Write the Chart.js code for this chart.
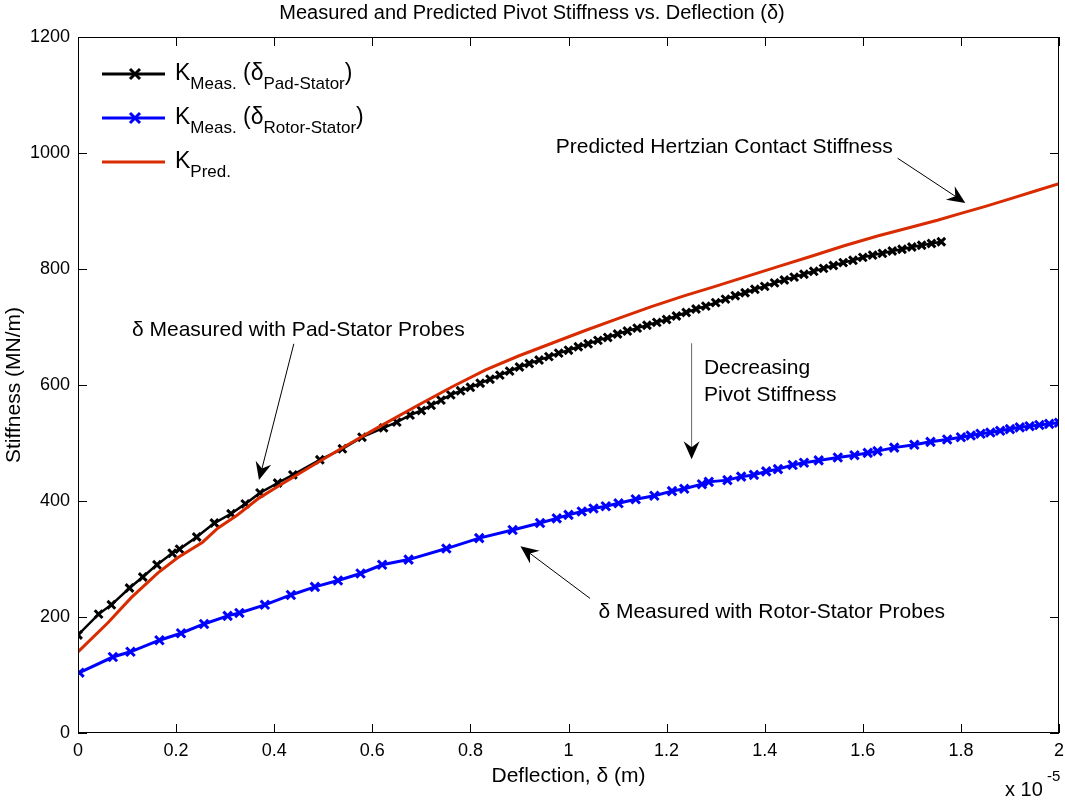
<!DOCTYPE html>
<html lang="en">
<head>
<meta charset="UTF-8">
<title>Measured and Predicted Pivot Stiffness vs. Deflection</title>
<script src="https://cdn.jsdelivr.net/npm/chart.js"></script>
<style>
    html, body { margin: 0; padding: 0; background: #fff; overflow: hidden; }
    #wrap { width: 1065px; height: 800px; overflow: hidden; }
</style>
</head>
<body>
<div id="wrap"><canvas id="stiffChart" width="1068" height="800"></canvas></div>
<script>
// deflection in units of 1e-5 m, stiffness in MN/m
const padStatorDefl = [0, 0.042, 0.068, 0.105, 0.132, 0.161, 0.192, 0.207, 0.242, 0.278, 0.312, 0.341,
    0.371, 0.407, 0.438, 0.493, 0.539, 0.579, 0.623, 0.650, 0.677,
    0.70, 0.72, 0.74, 0.76, 0.78, 0.80, 0.82, 0.84, 0.86, 0.88, 0.90, 0.92, 0.94, 0.96, 0.98,
    1.00, 1.02, 1.04, 1.06, 1.08, 1.10, 1.12, 1.14, 1.16, 1.18, 1.20, 1.22, 1.24, 1.26, 1.28,
    1.30, 1.32, 1.34, 1.36, 1.38, 1.40, 1.42, 1.44, 1.46, 1.48, 1.50, 1.52, 1.54, 1.56, 1.58,
    1.60, 1.62, 1.64, 1.66, 1.68, 1.70, 1.72, 1.74, 1.76];
const padStatorK = [169, 205, 221, 250, 269, 290, 310, 317, 338, 362, 378, 395,
    414, 431, 445, 471, 490, 510, 526, 536, 548,
    556, 565, 574, 583, 590, 596, 603, 610, 617, 624, 631, 637, 643, 649, 655,
    660, 666, 671, 677, 682, 688, 693, 698, 703, 708, 713, 719, 725, 731, 736,
    742, 748, 754, 759, 765, 770, 776, 781, 786, 791, 796, 801, 806, 811, 815,
    820, 824, 827, 831, 834, 838, 841, 844, 847];

const rotorStatorDefl = [0.003, 0.071, 0.107, 0.166, 0.21, 0.257, 0.305, 0.329, 0.381, 0.434, 0.483,
    0.53, 0.576, 0.62, 0.674, 0.751, 0.818, 0.886, 0.942, 0.976, 1.0, 1.027, 1.051, 1.076,
    1.102, 1.137, 1.175, 1.211, 1.236, 1.272, 1.286, 1.324, 1.352, 1.378, 1.403, 1.427,
    1.457, 1.48, 1.51, 1.549, 1.583, 1.61, 1.63, 1.664, 1.705, 1.738, 1.772, 1.80, 1.82,
    1.84, 1.86, 1.88, 1.90, 1.92, 1.94, 1.96, 1.98, 2.0];
const rotorStatorK = [104, 131, 140, 160, 172, 188, 202, 207, 221, 238, 252,
    263, 275, 290, 299, 318, 336, 350, 362, 370, 376, 382, 387, 391,
    396, 403, 409, 417, 421, 429, 433, 436, 442, 445, 451, 455,
    462, 466, 470, 475, 479, 483, 486, 492, 497, 502, 506, 510, 513,
    516, 518, 521, 524, 527, 529, 531, 533, 535];

const predDefl = [0, 0.061, 0.108, 0.163, 0.203, 0.254, 0.285, 0.325, 0.369, 0.413, 0.474, 0.542,
    0.610, 0.695, 0.763, 0.831, 0.898, 0.966, 1.034, 1.102, 1.169, 1.237, 1.291, 1.359,
    1.427, 1.495, 1.562, 1.63, 1.698, 1.752, 1.8, 1.85, 1.9, 1.95, 2.0];
const predK = [140, 190, 233, 276, 302, 329, 353, 376, 405, 428, 459, 493,
    526, 566, 597, 626, 650, 672, 694, 715, 735, 754, 768, 786,
    804, 822, 840, 857, 872, 884, 896, 908, 921, 934, 947];

const xTicks = [0, 0.2, 0.4, 0.6, 0.8, 1, 1.2, 1.4, 1.6, 1.8, 2];
const yTicks = [0, 200, 400, 600, 800, 1000, 1200];

const FONT = "'Liberation Sans', Arial, Helvetica, sans-serif";

function toPoints(xs, ys) {
    return xs.map((x, i) => ({ x: x, y: ys[i] }));
}

// text labels and arrows, given in data coordinates
const notes = [
    { text: 'Predicted Hertzian Contact Stiffness', x: 0.974, y: 1010 },
    { text: '\u03b4 Measured with Pad-Stator Probes', x: 0.110, y: 695 },
    { text: 'Decreasing', x: 1.276, y: 629 },
    { text: 'Pivot Stiffness', x: 1.276, y: 583 },
    { text: '\u03b4 Measured with Rotor-Stator Probes', x: 1.061, y: 209 }
];
const arrows = [
    { from: [1.671, 991], to: [1.809, 914], color: '#000' },
    { from: [0.440, 671], to: [0.369, 436], color: '#000' },
    { from: [1.251, 672], to: [1.251, 472], color: '#666' },
    { from: [1.044, 232], to: [0.902, 322], color: '#000' }
];

function drawArrow(ctx, x1, y1, x2, y2, color) {
    const ang = Math.atan2(y2 - y1, x2 - x1);
    ctx.strokeStyle = color;
    ctx.lineWidth = 1;
    ctx.beginPath();
    ctx.moveTo(x1, y1);
    ctx.lineTo(x2 - Math.cos(ang) * 10, y2 - Math.sin(ang) * 10);
    ctx.stroke();
    ctx.save();
    ctx.translate(x2, y2);
    ctx.rotate(ang);
    ctx.fillStyle = '#000';
    ctx.beginPath();
    ctx.moveTo(0, 0);
    ctx.lineTo(-18, -8);
    ctx.lineTo(-12, 0);
    ctx.lineTo(-18, 8);
    ctx.closePath();
    ctx.fill();
    ctx.restore();
}

// text with a subscript: parts = [[text, isSub], ...]
function drawSubText(ctx, x, y, parts) {
    ctx.textAlign = 'left';
    ctx.textBaseline = 'alphabetic';
    for (const [t, sub] of parts) {
        ctx.font = (sub ? '17px ' : '23px ') + FONT;
        ctx.fillText(t, x, sub ? y + 9 : y);
        x += ctx.measureText(t).width;
    }
}

const matlabLook = {
    id: 'matlabLook',
    afterDraw(chart) {
        const ctx = chart.ctx;
        const a = chart.chartArea;
        const xs = chart.scales.x, ys = chart.scales.y;
        ctx.save();

        // axes box and inward ticks
        ctx.strokeStyle = '#000';
        ctx.lineWidth = 1;
        ctx.strokeRect(a.left + 0.5, a.top + 0.5, a.right - a.left - 1, a.bottom - a.top - 1);
        ctx.beginPath();
        xTicks.forEach(v => {
            const px = Math.round(xs.getPixelForValue(v)) + 0.5;
            ctx.moveTo(px, a.bottom); ctx.lineTo(px, a.bottom - 9);
            ctx.moveTo(px, a.top); ctx.lineTo(px, a.top + 9);
        });
        yTicks.forEach(v => {
            const py = Math.round(ys.getPixelForValue(v)) + 0.5;
            ctx.moveTo(a.left, py); ctx.lineTo(a.left + 9, py);
            ctx.moveTo(a.right, py); ctx.lineTo(a.right - 9, py);
        });
        ctx.stroke();

        // title and axis titles
        ctx.fillStyle = '#000';
        ctx.font = '20px ' + FONT;
        ctx.textAlign = 'center';
        ctx.textBaseline = 'middle';
        ctx.fillText('Measured and Predicted Pivot Stiffness vs. Deflection (\u03b4)', 532, 13);
        ctx.font = '21px ' + FONT;
        ctx.fillText('Deflection, \u03b4 (m)', (a.left + a.right) / 2, 776);
        ctx.save();
        ctx.translate(14, (a.top + a.bottom) / 2);
        ctx.rotate(-Math.PI / 2);
        ctx.fillText('Stiffness (MN/m)', 0, 0);
        ctx.restore();

        // exponent label
        ctx.textAlign = 'left';
        ctx.font = '20px ' + FONT;
        ctx.fillText('x 10', 1005, 790);
        ctx.font = '15px ' + FONT;
        ctx.fillText('-5', 1047, 777);

        // legend (no box)
        const rows = [
            { y: 74, color: '#000', marker: true, parts: [['K', false], ['Meas.', true], [' (\u03b4', false], ['Pad-Stator', true], [')', false]] },
            { y: 118, color: '#0000ff', marker: true, parts: [['K', false], ['Meas.', true], [' (\u03b4', false], ['Rotor-Stator', true], [')', false]] },
            { y: 162, color: '#d92b00', marker: false, parts: [['K', false], ['Pred.', true]] }
        ];
        rows.forEach(r => {
            ctx.strokeStyle = r.color;
            ctx.lineWidth = 3;
            ctx.beginPath();
            ctx.moveTo(102, r.y); ctx.lineTo(165, r.y);
            ctx.stroke();
            if (r.marker) {
                ctx.lineWidth = 3;
                ctx.beginPath();
                ctx.moveTo(130, r.y - 5); ctx.lineTo(140, r.y + 5);
                ctx.moveTo(130, r.y + 5); ctx.lineTo(140, r.y - 5);
                ctx.stroke();
            }
            ctx.fillStyle = '#000';
            drawSubText(ctx, 175, r.y + 6, r.parts);
        });

        // annotations
        ctx.fillStyle = '#000';
        ctx.font = '21px ' + FONT;
        ctx.textAlign = 'left';
        ctx.textBaseline = 'middle';
        notes.forEach(n => ctx.fillText(n.text, xs.getPixelForValue(n.x), ys.getPixelForValue(n.y)));
        arrows.forEach(ar => drawArrow(ctx,
            xs.getPixelForValue(ar.from[0]), ys.getPixelForValue(ar.from[1]),
            xs.getPixelForValue(ar.to[0]), ys.getPixelForValue(ar.to[1]), ar.color));

        ctx.restore();
    }
};

const ctx = document.getElementById('stiffChart').getContext('2d');
new Chart(ctx, {
    type: 'scatter',
    data: {
        datasets: [
            {
                label: 'K Meas. (Pad-Stator)',
                data: toPoints(padStatorDefl, padStatorK),
                showLine: true,
                borderColor: '#000',
                borderWidth: 2.5,
                pointStyle: 'crossRot',
                pointRadius: 5.5,
                pointBorderWidth: 3,
                pointBorderColor: '#000',
                order: 1
            },
            {
                label: 'K Meas. (Rotor-Stator)',
                data: toPoints(rotorStatorDefl, rotorStatorK),
                showLine: true,
                borderColor: '#0000ff',
                borderWidth: 3,
                pointStyle: 'crossRot',
                pointRadius: 6,
                pointBorderWidth: 3,
                pointBorderColor: '#0000ff',
                order: 2
            },
            {
                label: 'K Pred.',
                data: toPoints(predDefl, predK),
                showLine: true,
                borderColor: '#d92b00',
                borderWidth: 3,
                pointRadius: 0,
                order: 0
            }
        ]
    },
    options: {
        responsive: false,
        animation: false,
        devicePixelRatio: 1,
        layout: { padding: { top: 37, right: 0, bottom: 0, left: 0 } },
        plugins: {
            legend: { display: false },
            title: { display: false },
            tooltip: { enabled: false }
        },
        scales: {
            x: {
                type: 'linear',
                min: 0,
                max: 2,
                grid: { display: false, drawTicks: false },
                border: { display: false },
                afterFit: s => { s.height = 67; s.paddingLeft = 0; s.paddingRight = 0; },
                afterBuildTicks: s => { s.ticks = xTicks.map(v => ({ value: v })); },
                ticks: {
                    padding: 7,
                    color: '#000',
                    font: { family: FONT, size: 18 },
                    maxRotation: 0,
                    callback: v => String(Number(v.toFixed(1)))
                }
            },
            y: {
                type: 'linear',
                min: 0,
                max: 1200,
                grid: { display: false, drawTicks: false },
                border: { display: false },
                afterFit: s => { s.width = 78; s.paddingTop = 0; s.paddingBottom = 0; },
                afterBuildTicks: s => { s.ticks = yTicks.map(v => ({ value: v })); },
                ticks: {
                    padding: 8,
                    color: '#000',
                    font: { family: FONT, size: 18 },
                    callback: v => String(v)
                }
            }
        }
    },
    plugins: [matlabLook]
});
</script>
</body>
</html>
